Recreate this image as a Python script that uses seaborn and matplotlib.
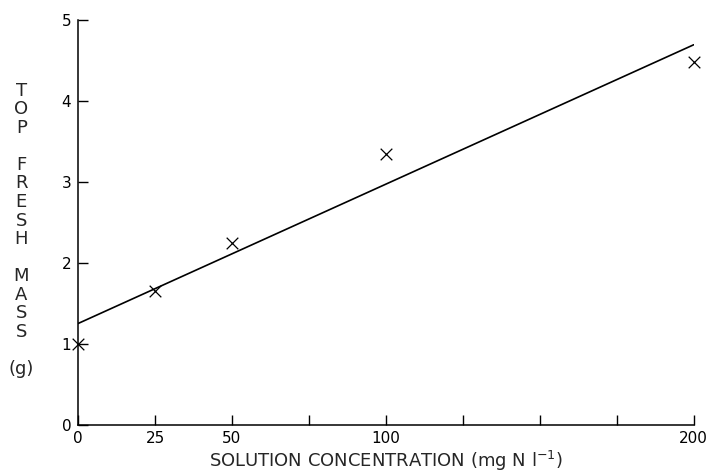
import numpy as np
import pandas as pd
import matplotlib
matplotlib.use("Agg")
import matplotlib.pyplot as plt
import seaborn as sns

# data
concentration = [0, 25, 50, 100, 200]
fresh_mass = [1.00, 1.65, 2.25, 3.34, 4.48]
x_ticks = [0, 25, 50, 75, 100, 125, 150, 175, 200]
x_tick_labels = ["0", "25", "50", "", "100", "", "", "", "200"]
y_ticks = [0, 1, 2, 3, 4, 5]

df = pd.DataFrame({"conc": concentration, "mass": fresh_mass})

sns.set_style("ticks")
plt.rcParams["font.family"] = ["DejaVu Sans"]

fig = plt.figure(figsize=(7.1, 4.73), dpi=100)
ax = fig.add_axes([0.110, 0.101, 0.867, 0.857])

# fitted line (least squares) + crosses
sns.regplot(data=df, x="conc", y="mass", ci=None, ax=ax,
            marker="x", color="black",
            scatter_kws={"s": 70, "linewidths": 0.9, "alpha": 1,
                         "clip_on": False, "zorder": 4},
            line_kws={"lw": 1.2})

ax.set_xlim(0, 200)
ax.set_ylim(0, 5)
ax.set_xticks(x_ticks)
ax.set_xticklabels(x_tick_labels, fontsize=11)
ax.set_yticks(y_ticks)
ax.set_yticklabels([str(v) for v in y_ticks], fontsize=11)
ax.tick_params(direction="in", length=7, width=1, pad=5, colors="black")
ax.tick_params(axis="x", pad=4)

sns.despine(ax=ax)
for s in ["left", "bottom"]:
    ax.spines[s].set_linewidth(1.1)
    ax.spines[s].set_color("black")

ax.set_xlabel("SOLUTION CONCENTRATION (mg N l$^{-1}$)", fontsize=13, labelpad=2)
ax.set_ylabel("")
ylab = "T\nO\nP\n\nF\nR\nE\nS\nH\n\nM\nA\nS\nS\n\n(g)"
fig.text(0.030, 0.514, ylab, fontsize=13, ha="center", va="center",
         linespacing=1.04)

fig.savefig("out.png", dpi=100)
